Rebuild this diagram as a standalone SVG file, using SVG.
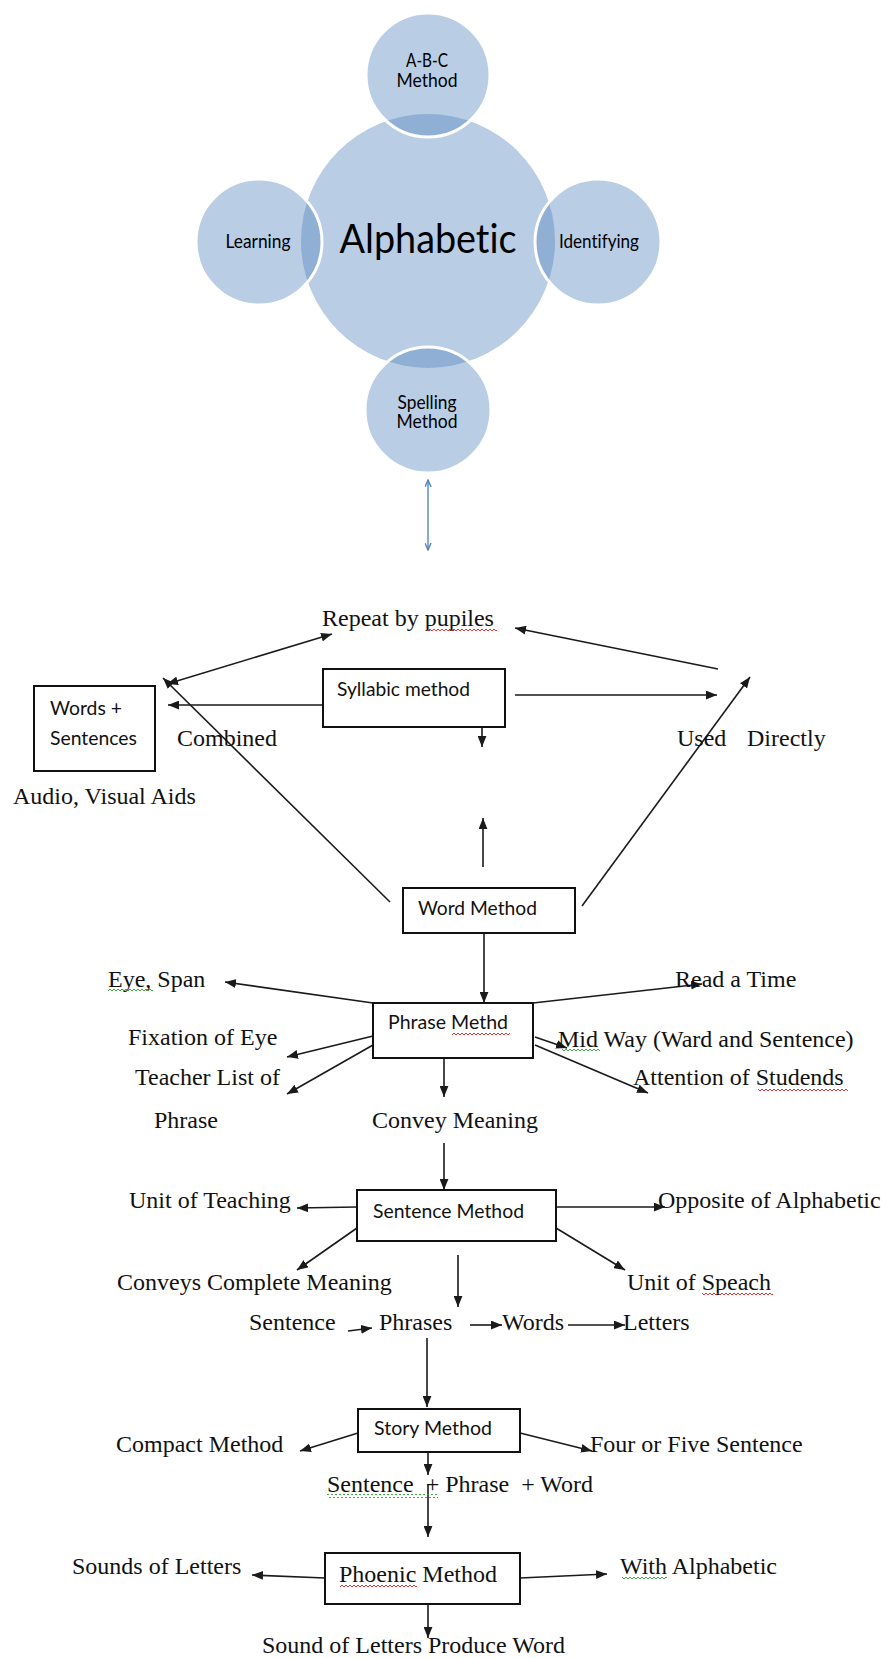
<svg xmlns="http://www.w3.org/2000/svg" width="891" height="1658" viewBox="0 0 891 1658">
<defs>
<style>
text{font-variant-ligatures:none}
.box{fill:#fff;stroke:#111;stroke-width:2}
.lbl{font-family:Lato,"Open Sans","Liberation Sans",sans-serif;font-size:20px;fill:#111}
.ser{font-family:"Liberation Serif","Times New Roman",serif;font-size:24px;fill:#111}
.c{fill:#4f81bd;fill-opacity:0.4}
.cs{fill:#4f81bd;fill-opacity:0.4;stroke:#fff;stroke-width:3}
.cl{font-family:Lato,"Open Sans","Liberation Sans",sans-serif;font-size:18.5px;text-anchor:middle;fill:#000}
.ln{stroke:#1a1a1a;stroke-width:1.6;fill:none;marker-end:url(#ah)}
.dbl{marker-start:url(#ah)}
.blue{stroke:#4a7ebb;stroke-width:1.3;fill:none;marker-start:url(#bh);marker-end:url(#bh)}
</style>
<marker id="ah" viewBox="0 0 10 8" refX="10" refY="4" markerWidth="11" markerHeight="9" markerUnits="userSpaceOnUse" orient="auto-start-reverse"><path d="M0,0L10,4L0,8z" fill="#1a1a1a"/></marker>
<marker id="bh" viewBox="0 0 10 8" refX="9" refY="4" markerWidth="9" markerHeight="7" markerUnits="userSpaceOnUse" orient="auto-start-reverse"><path d="M1,0.5L9,4L1,7.5" fill="none" stroke="#4a7ebb" stroke-width="1.5"/></marker>
<pattern id="sqr" width="4" height="4" patternUnits="userSpaceOnUse"><path d="M0,3L2,1L4,3" stroke="#e02020" stroke-width="0.9" fill="none"/></pattern>
<pattern id="sqg" width="4" height="4" patternUnits="userSpaceOnUse"><path d="M0,3L2,1L4,3" stroke="#2a9a2a" stroke-width="0.9" fill="none"/></pattern>
</defs>

<g id="alphabetic-cluster">
  <circle class="c" cx="428" cy="241" r="127"/>
  <circle class="cs" cx="428" cy="75" r="62"/>
  <circle class="cs" cx="259" cy="242" r="63"/>
  <circle class="cs" cx="598" cy="242" r="63"/>
  <circle class="cs" cx="428" cy="410" r="63"/>
</g>
<g id="node-alphabetic"><text class="cl" x="428" y="253" style="font-size:40.5px" textLength="177" lengthAdjust="spacingAndGlyphs">Alphabetic</text></g>
<g id="node-abc"><text class="cl" x="427" y="67" textLength="42" lengthAdjust="spacingAndGlyphs">A-B-C</text><text class="cl" x="427" y="87" textLength="61" lengthAdjust="spacingAndGlyphs">Method</text></g>
<g id="node-learning"><text class="cl" x="258" y="248" textLength="65" lengthAdjust="spacingAndGlyphs">Learning</text></g>
<g id="node-identifying"><text class="cl" x="599" y="248" textLength="80" lengthAdjust="spacingAndGlyphs">Identifying</text></g>
<g id="node-spelling"><text class="cl" x="427" y="409" textLength="59" lengthAdjust="spacingAndGlyphs">Spelling</text><text class="cl" x="427" y="428" textLength="61" lengthAdjust="spacingAndGlyphs">Method</text></g>

<g id="connectors">
  <line class="blue" x1="428" y1="480" x2="428" y2="550"/>
  <line class="ln dbl" x1="167" y1="684" x2="332" y2="634"/>
  <line class="ln" x1="390" y1="902" x2="163" y2="678"/>
  <line class="ln" x1="323" y1="705" x2="168" y2="705"/>
  <line class="ln" x1="515" y1="695" x2="717" y2="695"/>
  <line class="ln" x1="482" y1="712" x2="482" y2="747"/>
  <line class="ln" x1="483" y1="867" x2="483" y2="818"/>
  <line class="ln" x1="718" y1="669" x2="515" y2="628"/>
  <line class="ln" x1="582" y1="906" x2="750" y2="677"/>
  <line class="ln" x1="484" y1="933" x2="484" y2="1003"/>
  <line class="ln" x1="373" y1="1003" x2="225" y2="982"/>
  <line class="ln" x1="373" y1="1036" x2="287" y2="1057"/>
  <line class="ln" x1="373" y1="1045" x2="287" y2="1094"/>
  <line class="ln" x1="444" y1="1058" x2="444" y2="1097"/>
  <line class="ln" x1="533" y1="1003" x2="702" y2="984"/>
  <line class="ln" x1="535" y1="1037" x2="567" y2="1048"/>
  <line class="ln" x1="535" y1="1045" x2="648" y2="1093"/>
  <line class="ln" x1="444" y1="1143" x2="444" y2="1190"/>
  <line class="ln" x1="357" y1="1207" x2="297" y2="1208"/>
  <line class="ln" x1="357" y1="1228" x2="297" y2="1270"/>
  <line class="ln" x1="556" y1="1207" x2="665" y2="1207"/>
  <line class="ln" x1="556" y1="1228" x2="625" y2="1270"/>
  <line class="ln" x1="458" y1="1255" x2="458" y2="1307"/>
  <line class="ln" x1="348" y1="1331" x2="372" y2="1328"/>
  <line class="ln" x1="470" y1="1325" x2="502" y2="1325"/>
  <line class="ln" x1="568" y1="1325" x2="625" y2="1325"/>
  <line class="ln" x1="427" y1="1338" x2="427" y2="1407"/>
  <line class="ln" x1="358" y1="1433" x2="300" y2="1451"/>
  <line class="ln" x1="520" y1="1433" x2="592" y2="1451"/>
  <line class="ln" x1="428" y1="1452" x2="428" y2="1475"/>
  <line class="ln" x1="428" y1="1485" x2="428" y2="1537"/>
  <line class="ln" x1="325" y1="1578" x2="252" y2="1575"/>
  <line class="ln" x1="520" y1="1578" x2="607" y2="1574"/>
  <line class="ln" x1="428" y1="1604" x2="428" y2="1638"/>
</g>

<g id="node-repeat"><text class="ser" x="322" y="626">Repeat by pupiles</text><rect x="427" y="628" width="70" height="4" fill="url(#sqr)"/></g>
<g id="node-words-sentences"><rect class="box" x="34" y="686" width="121" height="85"/><text class="lbl" x="50" y="715" textLength="72" lengthAdjust="spacingAndGlyphs">Words +</text><text class="lbl" x="50" y="745" textLength="87" lengthAdjust="spacingAndGlyphs">Sentences</text></g>
<g id="node-syllabic"><rect class="box" x="323" y="669" width="182" height="58"/><text class="lbl" x="337" y="696" textLength="133" lengthAdjust="spacingAndGlyphs">Syllabic method</text></g>
<g id="node-combined"><text class="ser" x="177" y="746">Combined</text></g>
<g id="node-used-directly"><text class="ser" x="677" y="746">Used</text><text class="ser" x="747" y="746">Directly</text></g>
<g id="node-audio"><text class="ser" x="13" y="804">Audio, Visual Aids</text></g>
<g id="node-word-method"><rect class="box" x="403" y="888" width="172" height="45"/><text class="lbl" x="418" y="915" textLength="119" lengthAdjust="spacingAndGlyphs">Word Method</text></g>

<g id="node-phrase-method"><rect class="box" x="373" y="1003" width="160" height="55"/><text class="lbl" x="388" y="1029" textLength="120" lengthAdjust="spacingAndGlyphs">Phrase Methd</text><rect x="452" y="1032" width="58" height="4" fill="url(#sqr)"/></g>
<g id="node-eye-span"><text class="ser" x="108" y="987">Eye, Span</text><rect x="108" y="989" width="45" height="4" fill="url(#sqg)"/></g>
<g id="node-read-time"><text class="ser" x="675" y="987">Read a Time</text></g>
<g id="node-fixation"><text class="ser" x="128" y="1045">Fixation of Eye</text></g>
<g id="node-midway"><text class="ser" x="558" y="1047">Mid Way (Ward and Sentence)</text><rect x="562" y="1048" width="38" height="4" fill="url(#sqg)"/></g>
<g id="node-teacher"><text class="ser" x="135" y="1085">Teacher List of</text><text class="ser" x="154" y="1128">Phrase</text></g>
<g id="node-attention"><text class="ser" x="633" y="1085">Attention of Studends</text><rect x="758" y="1088" width="90" height="4" fill="url(#sqr)"/></g>
<g id="node-convey"><text class="ser" x="372" y="1128">Convey Meaning</text></g>

<g id="node-sentence-method"><rect class="box" x="357" y="1190" width="199" height="51"/><text class="lbl" x="373" y="1218" textLength="151" lengthAdjust="spacingAndGlyphs">Sentence Method</text></g>
<g id="node-unit-teaching"><text class="ser" x="129" y="1208">Unit of Teaching</text></g>
<g id="node-opposite"><text class="ser" x="658" y="1208">Opposite of Alphabetic</text></g>
<g id="node-conveys"><text class="ser" x="117" y="1290">Conveys Complete Meaning</text></g>
<g id="node-speach"><text class="ser" x="627" y="1290">Unit of Speach</text><rect x="702" y="1292" width="71" height="4" fill="url(#sqr)"/></g>
<g id="node-sentence"><text class="ser" x="249" y="1330">Sentence</text></g>
<g id="node-phrases"><text class="ser" x="379" y="1330">Phrases</text></g>
<g id="node-words"><text class="ser" x="502" y="1330">Words</text></g>
<g id="node-letters"><text class="ser" x="623" y="1330">Letters</text></g>

<g id="node-story"><rect class="box" x="358" y="1409" width="162" height="43"/><text class="lbl" x="374" y="1435" textLength="118" lengthAdjust="spacingAndGlyphs">Story Method</text></g>
<g id="node-compact"><text class="ser" x="116" y="1452">Compact Method</text></g>
<g id="node-four-five"><text class="ser" x="590" y="1452">Four or Five Sentence</text></g>
<g id="node-sentence-phrase-word"><text class="ser" x="327" y="1492" style="white-space:pre">Sentence  + Phrase  + Word</text><rect x="327" y="1494" width="111" height="4" fill="url(#sqg)"/></g>
<g id="node-phoenic"><rect class="box" x="325" y="1553" width="195" height="51"/><text class="ser" x="339" y="1582">Phoenic Method</text><rect x="340" y="1585" width="77" height="4" fill="url(#sqr)"/></g>
<g id="node-sounds"><text class="ser" x="72" y="1574">Sounds of Letters</text></g>
<g id="node-with-alpha"><text class="ser" x="620" y="1574">With Alphabetic</text><rect x="622" y="1577" width="45" height="4" fill="url(#sqg)"/></g>
<g id="node-produce"><text class="ser" x="262" y="1653">Sound of Letters Produce Word</text></g>
</svg>
